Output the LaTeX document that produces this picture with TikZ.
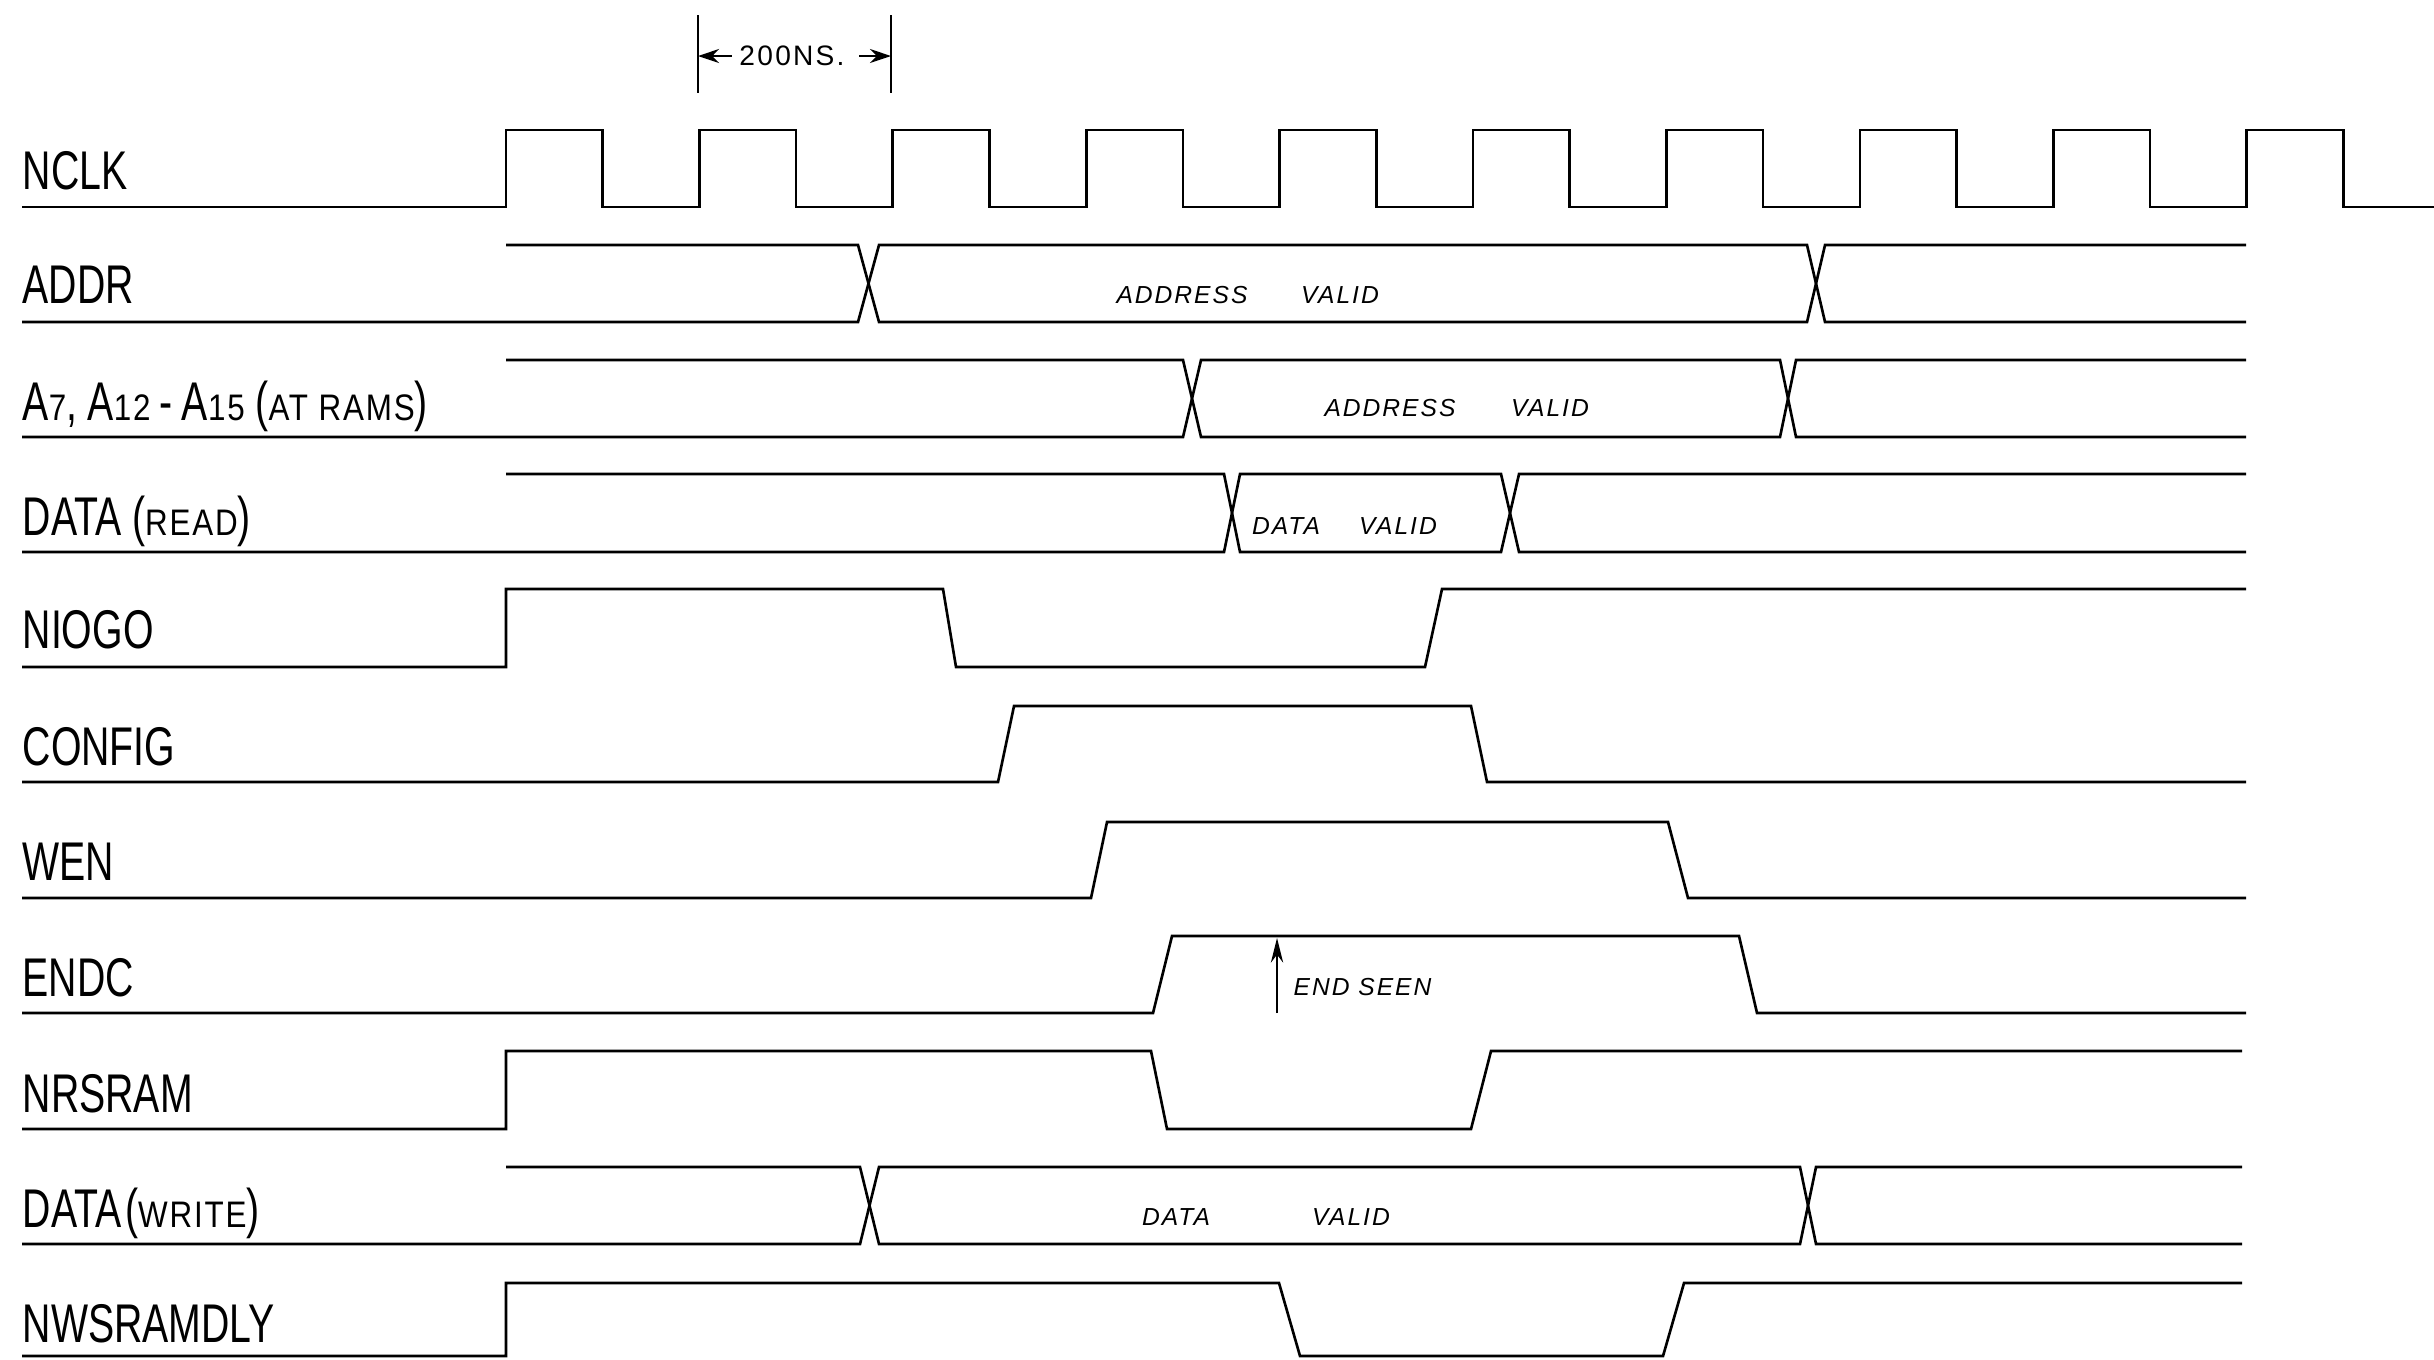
\documentclass[tikz,border=0pt]{standalone}
\usepackage{fontspec}
\setmainfont[FakeStretch=0.72]{Liberation Sans}
\newfontfamily\handfont[LetterSpace=8.0]{Liberation Sans}
\newfontfamily\lblsmall[FakeStretch=0.85,LetterSpace=5.0]{Liberation Sans}
\usetikzlibrary{arrows.meta}
\newcommand\lsm[1]{{\lblsmall\fontsize{10.5}{10.5}\selectfont #1}}
\begin{document}
\begin{tikzpicture}[x=0.01cm,y=-0.01cm,
  sig/.style={line width=0.75pt, line join=miter},
  lbl/.style={anchor=base west, inner sep=0pt, font=\fontsize{15.5}{15.5}\selectfont},
  note/.style={inner sep=0pt, font=\handfont\itshape\fontsize{7}{7}\selectfont},
  dim/.style={line width=0.8pt},
  dimarrow/.style={line width=0.6pt, -{Stealth[length=6pt,width=4pt]}}]
\useasboundingbox (0,0) rectangle (2434,1359);

% ---------- timing scale ----------
\coordinate (d1t) at (698,15);  \coordinate (d1b) at (698,93);
\coordinate (d2t) at (891,15);  \coordinate (d2b) at (891,93);
\coordinate (d1m) at (698,56);  \coordinate (d2m) at (891,56);
\draw[dim] (d1t) -- (d1b);
\draw[dim] (d2t) -- (d2b);
\node[inner sep=0pt, font=\handfont\fontsize{8}{8}\selectfont] (ns) at (792,56) {200NS.};
\draw[dimarrow] ([xshift=-2pt]ns.west) -- (d1m);
\draw[dimarrow] ([xshift=4pt]ns.east) -- (d2m);

% ---------- labels ----------
\node[lbl] (lnclk)  at (22,189)  {NCLK};
\node[lbl] (laddr)  at (22,303)  {ADDR};
\node[lbl] (la7)    at (22,420)  {A\lsm{7},\hspace{3pt}A\lsm{12}\,-\,A\lsm{15}\hspace{3pt}(\lsm{AT RAMS})};
\node[lbl] (ldr)    at (22,535)  {DATA\hspace{3pt}(\lsm{READ})};
\node[lbl] (liogo)  at (22,648)  {NIOGO};
\node[lbl] (lcfg)   at (22,765)  {CONFIG};
\node[lbl] (lwen)   at (22,880)  {WEN};
\node[lbl] (lendc)  at (22,996)  {ENDC};
\node[lbl] (lnrs)   at (22,1112) {NRSRAM};
\node[lbl] (ldw)    at (22,1227) {DATA\hspace{1pt}(\lsm{WRITE})};
\node[lbl] (lnws)   at (22,1342) {NWSRAMDLY};

% ---------- NCLK ----------
\draw[sig] (22,207) -- (506,207)
  \foreach \k in {0,...,9} { -- ++(0,-77) -- ++(96.7,0) -- ++(0,77) -- ++(96.7,0) };

% ---------- ADDR ----------
\draw[sig] (22,322) -- (858,322) -- (879,245) -- (1807,245) -- (1825,322) -- (2246,322);
\draw[sig] (506,245) -- (858,245) -- (879,322) -- (1807,322) -- (1825,245) -- (2246,245);
\node[note] (av1a) at (1182,295) {ADDRESS};
\node[note] (av1b) at (1340,295) {VALID};

% ---------- A7, A12-A15 ----------
\draw[sig] (22,437) -- (1183,437) -- (1201,360) -- (1780,360) -- (1796,437) -- (2246,437);
\draw[sig] (506,360) -- (1183,360) -- (1201,437) -- (1780,437) -- (1796,360) -- (2246,360);
\node[note] (av2a) at (1390,408) {ADDRESS};
\node[note] (av2b) at (1550,408) {VALID};

% ---------- DATA (READ) ----------
\draw[sig] (22,552) -- (1224,552) -- (1240,474) -- (1501,474) -- (1519,552) -- (2246,552);
\draw[sig] (506,474) -- (1224,474) -- (1240,552) -- (1501,552) -- (1519,474) -- (2246,474);
\node[note] (dv1a) at (1286,526) {DATA};
\node[note] (dv1b) at (1398,526) {VALID};

% ---------- NIOGO ----------
\draw[sig] (22,667) -- (506,667) -- (506,589) -- (943,589) -- (956,667) -- (1425,667) -- (1442,589) -- (2246,589);

% ---------- CONFIG ----------
\draw[sig] (22,782) -- (998,782) -- (1014,706) -- (1471,706) -- (1487,782) -- (2246,782);

% ---------- WEN ----------
\draw[sig] (22,898) -- (1091,898) -- (1107,822) -- (1668,822) -- (1688,898) -- (2246,898);

% ---------- ENDC ----------
\draw[sig] (22,1013) -- (1153,1013) -- (1172,936) -- (1739,936) -- (1757,1013) -- (2246,1013);
\coordinate (esb) at (1277,1013);
\coordinate (est) at (1277,938);
\draw[line width=0.6pt, -{Stealth[length=7pt,width=3.5pt]}] (esb) -- (est);
\node[note, anchor=west] (endseen) at (1293,987) {END SEEN};

% ---------- NRSRAM ----------
\draw[sig] (22,1129) -- (506,1129) -- (506,1051) -- (1151,1051) -- (1167,1129) -- (1471,1129) -- (1491,1051) -- (2242,1051);

% ---------- DATA (WRITE) ----------
\draw[sig] (22,1244) -- (860,1244) -- (879,1167) -- (1800,1167) -- (1816,1244) -- (2242,1244);
\draw[sig] (506,1167) -- (860,1167) -- (879,1244) -- (1800,1244) -- (1816,1167) -- (2242,1167);
\node[note] (dv2a) at (1176,1217) {DATA};
\node[note] (dv2b) at (1351,1217) {VALID};

% ---------- NWSRAMDLY ----------
\draw[sig] (22,1356) -- (506,1356) -- (506,1283) -- (1279,1283) -- (1300,1356) -- (1663,1356) -- (1684,1283) -- (2242,1283);
\end{tikzpicture}
\end{document}
